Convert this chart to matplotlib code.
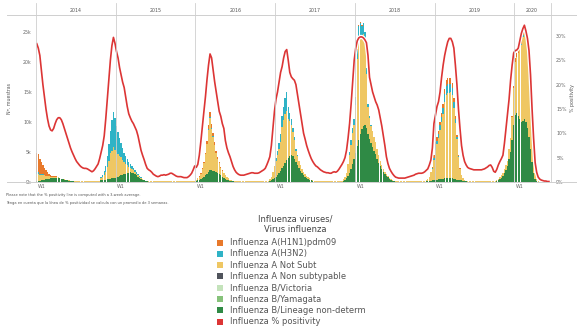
import numpy as np
import matplotlib
matplotlib.use('Agg')
import matplotlib.pyplot as plt
from matplotlib import patheffects
from matplotlib.lines import Line2D
from matplotlib.patches import Rectangle

# weekly data, 2014-W1 .. 2020-W23, counts in thousands, positivity in %
years = ['2014', '2015', '2016', '2017', '2018', '2019', '2020']
weeks_in_year = [52, 52, 52, 52, 52, 52, 23]

h1n1 = ([3.3, 3.0, 2.5, 2.0, 1.6, 1.2, 0.9, 0.6, 0.4, 0.3, 0.2, 0.15, 0.1, 0.1, 0.05] + [0] * 37
        + [0] * 52
        + [0, 0, 0.1, 0.1, 0.2, 0.2, 0.3, 0.4, 0.6, 0.8, 0.6, 0.5, 0.4, 0.3, 0.2, 0.15, 0.1, 0.1, 0.05] + [0] * 33
        + [0] * 52
        + [0.1, 0.2, 0.2, 0.2, 0.2, 0.1] + [0] * 44 + [0.2, 0.5]
        + [0.7, 0.6, 0.5, 0.5, 0.6, 0.7, 0.8, 1.0, 1.0, 1.0, 1.0, 0.9, 0.7, 0.5, 0.3, 0.2, 0.1] + [0] * 33 + [0.2, 0.4]
        + [0.6, 0.7, 0.8, 0.9, 1.0, 1.1, 1.2, 1.2, 1.1, 0.9, 0.7, 0.4, 0.2] + [0] * 10)

h3n2 = ([0.2, 0.2, 0.2, 0.1, 0.1] + [0] * 37 + [0.2, 0.4, 0.6, 1.0, 1.8, 2.8, 3.8, 5.1, 5.8, 5.2]
        + [4.4, 3.8, 3.0, 2.4, 1.9, 1.6, 1.3, 1.0, 0.8, 0.6, 0.5, 0.4, 0.3, 0.25, 0.2, 0.15, 0.1, 0.1, 0.05] + [0] * 33
        + [0] * 8 + [0.2, 0.3, 0.2, 0.1, 0.1] + [0] * 39
        + [0.5, 0.7, 1.0, 1.4, 1.8, 2.2, 2.6, 3.2, 2.0, 1.3, 1.0, 0.7, 0.5, 0.3, 0.2] + [0] * 33 + [0.5, 0.8, 0.9, 1.0]
        + [1.2, 1.5, 2.0, 2.0, 1.8, 1.8, 1.5, 1.0, 0.5, 0.3, 0.2] + [0] * 39 + [0.2, 0.4]
        + [0.6, 0.6, 0.7, 0.8, 0.9, 1.0, 1.3, 1.5, 1.5, 1.5, 1.4, 1.2, 0.9, 0.6, 0.4, 0.2, 0.1] + [0] * 35
        + [0] * 4 + [0.2] * 4 + [0] * 15)

not_subt = ([1.3, 1.2, 1.0, 0.9, 0.8, 0.7, 0.6, 0.5, 0.4, 0.3, 0.25, 0.2, 0.2, 0.15, 0.1, 0.1] + [0.05] * 26
            + [0.3, 0.5, 0.8, 1.3, 2.0, 3.0, 4.2, 4.6, 5.2, 4.7]
            + [4.2, 3.7, 3.4, 3.0, 2.5, 2.0, 1.6, 1.3, 1.0, 0.8, 0.6, 0.5, 0.4, 0.3, 0.25, 0.2, 0.15, 0.1, 0.1, 0.05, 0.05]
            + [0.05] * 31
            + [0.2, 0.3, 0.5, 0.9, 1.5, 2.2, 3.5, 5.0, 7.0, 8.6, 6.8, 5.6, 4.3, 3.2, 2.4, 1.8, 1.3, 1.0, 0.8, 0.6,
               0.4, 0.3, 0.2, 0.1, 0.1] + [0.05] * 23 + [0.3, 0.6, 1.2, 2.1]
            + [2.7, 3.4, 4.0, 4.7, 6.9, 7.6, 8.2, 8.2, 6.5, 5.9, 5.0, 4.0, 3.1, 1.9, 1.5, 1.2, 0.9, 0.7, 0.5, 0.4,
               0.3, 0.3, 0.2, 0.1, 0.1] + [0.05] * 19 + [0.3, 0.4, 0.9, 2.0, 3.0, 4.0, 5.1, 5.7]
            + [8.0, 14.5, 17.0, 16.4, 15.4, 15.3, 14.0, 9.0, 4.5, 3.5, 2.8, 2.7, 2.3, 2.1, 1.6, 1.3, 0.9, 0.7, 0.6,
               0.4, 0.3, 0.2, 0.2, 0.1, 0.1, 0.05] + [0.05] * 20 + [0.2, 0.4, 0.7, 1.4, 1.8, 3.3]
            + [5.0, 5.9, 6.8, 8.2, 9.5, 10.8, 12.8, 13.9, 14.2, 14.2, 14.3, 13.8, 11.9, 9.4, 6.7, 3.7, 1.8, 0.9,
               0.4, 0.1, 0.1] + [0.05] * 19 + [0.1, 0.2, 0.3, 0.4, 0.5, 0.7, 0.8, 0.9, 1.7, 2.3, 3.8, 6.1]
            + [8.8, 9.3, 10.5, 11.8, 12.8, 14.0, 14.3, 14.1, 14.4, 12.8, 10.5, 6.3, 2.8, 1.0, 0.3, 0.2] + [0] * 7)

non_subtypable = [0] * 335
b_victoria = [0] * 335
b_yamagata = [0] * 335

b_lineage = ([0.1, 0.2, 0.2, 0.3, 0.35, 0.4, 0.45, 0.5, 0.55, 0.6, 0.6, 0.65, 0.7, 0.7, 0.65, 0.6, 0.5, 0.45,
              0.4, 0.3, 0.25, 0.2, 0.15, 0.1, 0.1] + [0.05] * 17
             + [0.3, 0.3, 0.35, 0.4, 0.45, 0.5, 0.55, 0.6, 0.65, 0.7]
             + [0.8, 0.9, 1.0, 1.1, 1.2, 1.3, 1.4, 1.5, 1.55, 1.6, 1.55, 1.45, 1.3, 1.1, 0.9, 0.7, 0.5, 0.35,
                0.25, 0.15, 0.1] + [0.05] * 31
             + [0.2, 0.3, 0.4, 0.5, 0.7, 0.9, 1.1, 1.4, 1.7, 2.0, 2.0, 1.9, 1.8, 1.7, 1.5, 1.3, 1.1, 0.9, 0.7,
                0.5, 0.4, 0.3, 0.2, 0.15, 0.1] + [0.05] * 23 + [0.2, 0.3, 0.5, 0.6]
             + [0.8, 1.1, 1.5, 1.9, 2.3, 2.7, 3.2, 3.6, 4.0, 4.3, 4.5, 4.3, 3.9, 3.3, 2.8, 2.3, 1.9, 1.5, 1.2,
                0.9, 0.7, 0.5, 0.4, 0.3, 0.2] + [0.05] * 19 + [0.2, 0.4, 0.6, 1.0, 1.5, 2.2, 3.0, 3.8]
             + [4.8, 6.0, 7.0, 8.0, 8.8, 9.3, 9.5, 9.0, 8.0, 7.2, 6.5, 5.8, 5.2, 4.6, 3.9, 3.2, 2.6, 2.1, 1.6,
                1.3, 1.0, 0.8, 0.5, 0.4, 0.2, 0.15] + [0.05] * 20 + [0.1, 0.1, 0.2, 0.2, 0.3, 0.3]
             + [0.4, 0.4, 0.5, 0.5, 0.5, 0.5, 0.6, 0.6, 0.6, 0.6, 0.6, 0.6, 0.5, 0.5, 0.4, 0.4, 0.3, 0.3, 0.2,
                0.2, 0.1] + [0.05] * 19 + [0.2, 0.3, 0.5, 0.7, 1.0, 1.5, 2.0, 2.6, 3.8, 5.0, 7.0, 9.5]
             + [11.2, 11.5, 11.0, 10.5, 10.0, 10.2, 10.5, 10.0, 9.0, 7.5, 5.5, 3.3, 1.5, 0.5, 0.2] + [0] * 8)

positivity = ([28.4, 27.5, 26.0, 23, 20, 17.5, 15, 13, 11.5, 10.7, 10.5, 11, 12, 12.8, 13.2, 13.2, 12.8, 12,
               11, 10, 9, 8, 7, 6.2, 5.5, 4.8, 4.2, 3.8, 3.4, 3.1, 2.9, 2.8, 2.8, 2.7, 2.5, 2.3, 2.1, 2.3, 2.7,
               3.2, 3.7, 4.8, 6.2, 7.5, 9.5, 13, 17, 21, 25, 28, 29.7, 28.5]
              + [26.8, 25.5, 23.5, 22, 20.5, 19.4, 17.5, 15.5, 14, 13.2, 12.5, 12, 11.3, 10.6, 9.5, 8, 6.5, 5.5,
                 4.6, 3.6, 2.8, 2.5, 2.3, 2.0, 1.6, 1.4, 1.2, 1.1, 1.2, 1.4, 1.4, 1.5, 1.4, 1.5, 1.6, 1.8, 1.8,
                 1.6, 1.4, 1.2, 1.1, 1.1, 1.1, 1.0, 0.9, 0.9, 0.9, 1.1, 1.4, 1.8, 2.5, 3.3]
              + [3.0, 3.6, 5.5, 8.3, 11.5, 14.5, 17.5, 21, 24, 26.3, 25.5, 23, 20.6, 18.5, 16.5, 14.5, 13.5, 12,
                 11, 8.5, 7, 6, 5.2, 4.2, 3.2, 2.5, 2.0, 1.7, 1.5, 1.4, 1.4, 1.4, 1.5, 1.6, 1.7, 1.8, 1.9, 1.9,
                 1.8, 1.8, 1.8, 1.9, 2.1, 2.3, 2.5, 2.8, 3.5, 4.3, 5.2, 7.5, 11, 14.5]
              + [17, 18.5, 20.5, 22.5, 23.7, 25.5, 26.8, 27.2, 25, 22.5, 21.6, 21.2, 20.9, 20, 18, 16, 14, 12,
                 10, 8.8, 7.5, 6.5, 5.6, 4.8, 4.2, 3.7, 3.3, 3.1, 2.8, 2.5, 2.3, 2.1, 2.0, 1.9, 1.9, 1.8, 1.8,
                 2.0, 2.1, 2.0, 2.2, 2.6, 3.1, 3.6, 4.2, 5.0, 6.5, 9.0, 12, 16, 20.5, 25]
              + [27.5, 29, 29.6, 29.8, 29.8, 29.6, 29.2, 28.6, 26, 21.5, 20, 18.5, 17.5, 16.5, 15.8, 14.8, 13.2,
                 11.5, 9.5, 7.5, 5.2, 3.8, 2.8, 2.2, 1.7, 1.3, 1.0, 0.9, 0.8, 0.8, 0.8, 0.8, 0.8, 0.9, 1.0, 1.1,
                 1.2, 1.3, 1.4, 1.6, 1.7, 1.8, 1.8, 1.8, 1.9, 2.1, 2.4, 2.7, 3.5, 4.5, 7, 12]
              + [13.8, 15.5, 16.5, 18.5, 21.5, 24, 26, 27.5, 28.8, 29.5, 29.5, 28.8, 27.5, 24, 20, 15, 11, 7.5,
                 5.5, 4.2, 3.5, 3.0, 2.8, 2.7, 2.6, 2.5, 2.5, 2.5, 2.5, 2.5, 2.5, 2.6, 2.7, 2.9, 3.1, 3.4, 3.5,
                 3.0, 2.2, 2.0, 2.6, 3.5, 4.2, 4.8, 5.5, 8, 11, 13.8, 17, 20.9, 24, 26.5]
              + [27, 27.1, 27.5, 29, 30.5, 31.5, 32.2, 31, 29.5, 27, 22, 15, 9, 4, 2, 1, 0.6, 0.4, 0.3, 0.2,
                 0.2, 0.1, 0.1])

legend_labels = ['Influenza A(H1N1)pdm09', 'Influenza A(H3N2)', 'Influenza A Not Subt',
                 'Influenza A Non subtypable', 'Influenza B/Victoria', 'Influenza B/Yamagata',
                 'Influenza B/Lineage non-determ', 'Influenza % positivity']
colors = ['#e8792b', '#2fb3c6', '#efc763', '#50545c', '#c4e3bb', '#86c27a', '#2f8a45', '#dc3535']

W, H = 577, 329
fig = plt.figure(figsize=(W / 100, H / 100), dpi=100)
ax = fig.add_axes([36 / W, 1 - 182 / H, 516 / W, 167 / H])
ax2 = ax.twinx()

x = np.arange(len(positivity))
# stacked from the bottom up
stack = [(b_lineage, colors[6]), (b_yamagata, colors[5]), (b_victoria, colors[4]),
         (non_subtypable, colors[3]), (not_subt, colors[2]), (h3n2, colors[1]), (h1n1, colors[0])]
bottom = np.zeros(len(x))
for vals, c in stack:
    vals = np.array(vals, dtype=float)
    ax.bar(x, vals, width=0.9, bottom=bottom, color=c, linewidth=0)
    bottom += vals

ax2.plot(x, positivity, color=colors[7], lw=1.2, solid_joinstyle='round',
         path_effects=[patheffects.withStroke(linewidth=3.0, foreground='white')])

ax.set_xlim(-0.5, 336)
ax.set_ylim(0, 27.8)
ax2.set_ylim(0, 34.3)

ax.set_yticks([0, 5, 10, 15, 20, 25])
ax.set_yticklabels([f'{v}k' for v in [0, 5, 10, 15, 20, 25]])
ax2.set_yticks([0, 5, 10, 15, 20, 25, 30])
ax2.set_yticklabels([f'{v}%' for v in [0, 5, 10, 15, 20, 25, 30]])

starts = np.cumsum([0] + weeks_in_year[:-1])
ax.set_xticks(starts + 3)
ax.set_xticklabels(['W1'] * len(starts))

for a in (ax, ax2):
    a.tick_params(length=0, labelsize=3.4, colors='#666666', pad=3)
    for s in a.spines.values():
        s.set_visible(False)
ax.tick_params(axis='x', pad=1.5)

ax.set_ylabel('Nº. muestras', fontsize=3.4, color='#555555')
ax.yaxis.set_label_coords((12 - 36) / 516, 0.5)
ax2.set_ylabel('% positivity', fontsize=3.4, color='#555555', rotation=90)
ax2.yaxis.set_label_coords((570 - 36) / 516, 0.5)

# frame and year band
grey = '#cfcfcf'
fig.add_artist(Line2D([7 / W, 1], [1 - 15 / H] * 2, color=grey, lw=0.7))
fig.add_artist(Line2D([7 / W, 1], [1 - 182 / H] * 2, color=grey, lw=0.7))
bounds = list(starts - 0.5) + [335.5]
for b in bounds:
    xf = (36 + (b + 0.5) * 516 / 336.5) / W
    fig.add_artist(Line2D([xf, xf], [1 - 182 / H, 1 - 3 / H], color=grey, lw=0.6))
for yr, s, n in zip(years, starts, weeks_in_year):
    xc = s - 0.5 + n / 2
    ax.text(xc, 1 + 5 / 167, yr, transform=ax.get_xaxis_transform(), ha='center', va='center',
            fontsize=3.4, color='#555555')

fig.text(6 / W, 1 - 195 / H, 'Please note that the % positivity line is computed with a 3-week average.',
         fontsize=2.6, color='#555555', va='center')
fig.text(6 / W, 1 - 203 / H, 'Tenga en cuenta que la línea de % positividad se calcula con un promedio de 3 semanas.',
         fontsize=2.6, color='#555555', va='center')

# legend
fig.text(295 / W, 1 - 219 / H, 'Influenza viruses/', fontsize=6, color='#444444', ha='center', va='center')
fig.text(295 / W, 1 - 230 / H, 'Virus influenza', fontsize=6, color='#444444', ha='center', va='center')
for i, (lab, c) in enumerate(zip(legend_labels, colors)):
    yc = 242.5 + 11.3 * i
    fig.add_artist(Rectangle((217 / W, 1 - (yc + 3) / H), 6 / W, 6 / H, facecolor=c, edgecolor='none'))
    fig.text(230 / W, 1 - yc / H, lab, fontsize=6, color='#555555', va='center')

fig.savefig('out.png', dpi=100)
